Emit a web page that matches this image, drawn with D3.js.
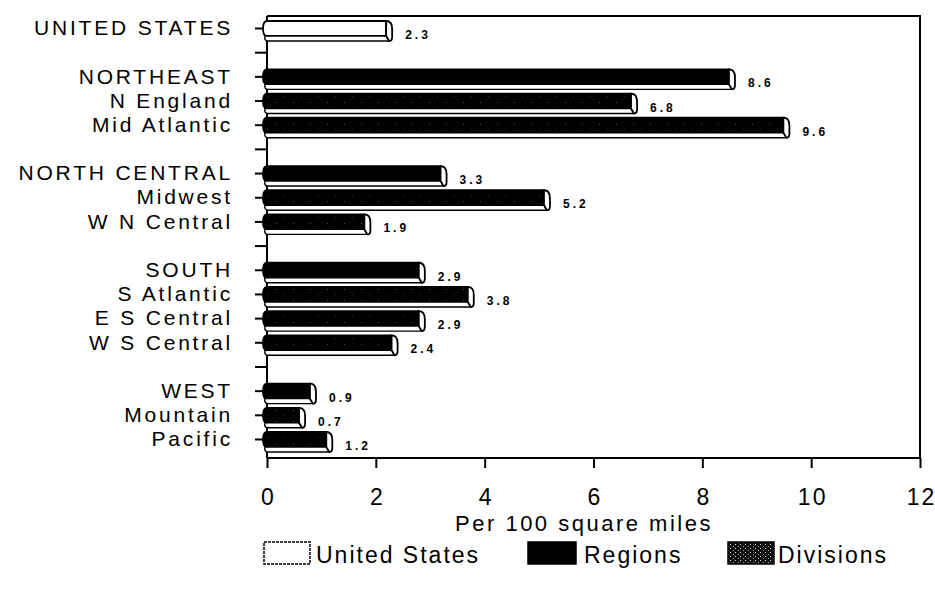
<!DOCTYPE html>
<html><head><meta charset="utf-8">
<script src="https://cdn.jsdelivr.net/npm/d3@7"></script>
<style>
body{margin:0;background:#fff;}
svg{display:block;font-family:"Liberation Sans",Arial,sans-serif;}
</style></head>
<body><svg id="c" width="935" height="594"></svg>
<script>
const categories = ["UNITED STATES","NORTHEAST","N England","Mid Atlantic","NORTH CENTRAL","Midwest","W N Central","SOUTH","S Atlantic","E S Central","W S Central","WEST","Mountain","Pacific"];
const values = [2.3,8.6,6.8,9.6,3.3,5.2,1.9,2.9,3.8,2.9,2.4,0.9,0.7,1.2];
const levels = ["us","region","division","division","region","division","division","region","division","division","division","region","division","division"];
const groups = [0,1,1,1,2,2,2,3,3,3,3,4,4,4];
const xTicks = [0,2,4,6,8,10,12];
const legendLabels = ["United States","Regions","Divisions"];
const legendLevels = ["us","region","division"];
const xTitle = "Per 100 square miles";

const svg = d3.select("#c");
const defs = svg.append("defs");
const pat = defs.append("pattern").attr("id","divpat").attr("patternUnits","userSpaceOnUse")
  .attr("width",17).attr("height",11);
pat.append("rect").attr("width",17).attr("height",11).attr("fill","#000");
pat.append("rect").attr("x",4).attr("y",3).attr("width",1).attr("height",1).attr("fill","#555");
pat.append("rect").attr("x",12).attr("y",8).attr("width",1).attr("height",1).attr("fill","#333");
const pat2 = defs.append("pattern").attr("id","divpat2").attr("patternUnits","userSpaceOnUse")
  .attr("width",5).attr("height",4);
pat2.append("rect").attr("width",5).attr("height",4).attr("fill","#111");
pat2.append("rect").attr("x",0).attr("y",0).attr("width",1).attr("height",1).attr("fill","#ddd");
pat2.append("rect").attr("x",3).attr("y",2).attr("width",1).attr("height",1).attr("fill","#999");

const fillOf = l => l==="us" ? "#fff" : (l==="region" ? "#000" : "url(#divpat)");
const FONT = "'Liberation Sans',Arial,sans-serif";

const L = 267, R = 920, T = 16, B = 458;
const x = d3.scaleLinear().domain([0,12]).range([L,R]);

const rowKeys = [];
categories.forEach((c,i)=>{
  if (i>0 && groups[i]!==groups[i-1]) rowKeys.push("gap"+groups[i]);
  rowKeys.push(c);
});
const y = d3.scalePoint().domain(rowKeys).range([28,439]);

// frame
svg.append("path").attr("d",`M${L},${T}H${R}V${B}`).attr("fill","none").attr("stroke","#000").attr("stroke-width",2);

// y axis
const yAxis = d3.axisLeft(y).tickSize(12).tickPadding(22)
  .tickFormat(d => d.startsWith("gap") ? "" : d);
const gy = svg.append("g").attr("transform",`translate(${L},0)`).call(yAxis);
gy.select(".domain").attr("stroke-width",2).attr("d",`M0,${T}V${B}`);
gy.selectAll(".tick line").attr("stroke-width",2);
gy.selectAll(".tick text").attr("font-size",21).attr("letter-spacing","2.8px").attr("fill","#000")
  .attr("font-family",FONT);

// x axis
const xAxis = d3.axisBottom(x).tickValues(xTicks).tickSize(10).tickPadding(21).tickFormat(d3.format("d"));
const gx = svg.append("g").attr("transform",`translate(0,${B})`).call(xAxis);
gx.select(".domain").attr("stroke-width",2).attr("d",`M${L},0H${R}`);
gx.selectAll(".tick line").attr("stroke-width",2);
gx.selectAll(".tick text").attr("font-size",23).attr("letter-spacing","2px").attr("dx","1px").attr("fill","#000")
  .attr("font-family",FONT);

svg.append("text").attr("x",584).attr("y",531).attr("text-anchor","middle")
  .attr("font-size",22).attr("letter-spacing","2.5px").text(xTitle);

// bars
const bars = svg.append("g");
categories.forEach((c,i)=>{
  const yc = y(c), xv = x(values[i]), x0 = L-4;
  const g = bars.append("g");
  g.append("path")
    .attr("d",`M${x0+4},${yc-7}H${xv-6}V${yc+8}H${x0+4}Q${x0},${yc+8} ${x0},${yc+1}Q${x0},${yc-7} ${x0+4},${yc-7}Z`)
    .attr("fill",fillOf(levels[i])).attr("stroke","#000").attr("stroke-width",1.8);
  g.append("path")
    .attr("d",`M${x0+2},${yc+8}H${xv-6}L${xv-3},${yc+13}H${x0+4}Q${x0+1},${yc+12} ${x0+2},${yc+8}Z`)
    .attr("fill","#fff").attr("stroke","#000").attr("stroke-width",1.4);
  g.append("path")
    .attr("d",`M${xv-6},${yc-7}Q${xv},${yc-7} ${xv},${yc+1}V${yc+9}Q${xv},${yc+13} ${xv-3},${yc+13}L${xv-6},${yc+8}Z`)
    .attr("fill","#fff").attr("stroke","#000").attr("stroke-width",1.8);
  svg.append("text").attr("x",xv+13).attr("y",yc+11)
    .attr("font-size",12).attr("font-weight","bold").attr("letter-spacing","3px")
    .text(d3.format(".1f")(values[i]));
});

// legend
const legX = [264,528,728], legW = [46,48,46], legT = [316,584,778];
legendLabels.forEach((lab,i)=>{
  svg.append("rect").attr("x",legX[i]).attr("y",542).attr("width",legW[i]).attr("height",22)
    .attr("fill", legendLevels[i]==="division" ? "url(#divpat2)" : fillOf(legendLevels[i]))
    .attr("stroke","#000").attr("stroke-width",1.5)
    .attr("stroke-dasharray", legendLevels[i]==="us" ? "3,1" : null);
  svg.append("text").attr("x",legT[i]).attr("y",563).attr("font-size",23).attr("letter-spacing","2px").text(lab);
});
</script></body></html>
